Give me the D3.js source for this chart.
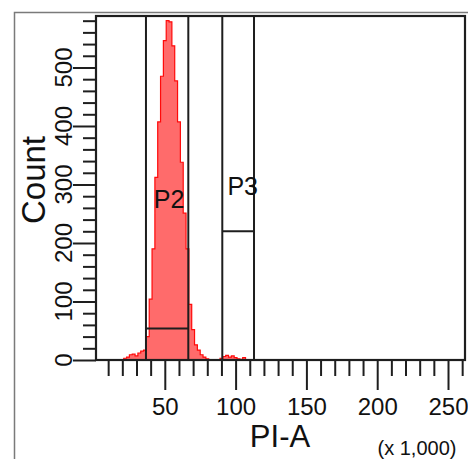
<!DOCTYPE html>
<html><head><meta charset="utf-8">
<script src="https://cdn.jsdelivr.net/npm/d3@7"></script>
<style>html,body{margin:0;padding:0;background:#fff;} svg{display:block;font-family:"Liberation Sans",Arial,Helvetica,sans-serif;}</style>
</head><body><svg id="c" width="468" height="459"></svg>
<script>
// ---- data (PI-A in thousands, Count) ----
const binStarts = [19,21,23,25,27,29,31,33,35,37,39,41,43,45,47,49,51,53,55,57,59,61,63,65,67,69,71,73,75,77,79,81,83,85,87,89,91,93,95,97,99,101,103,105,107,109];
const binCounts = [0,3,5,9,10,7,12,15,17,40,104,190,312,407,485,546,580,578,537,477,407,338,251,190,95,52,26,17,9,5,2,0,0,0,0,3,6,8,5,7,4,2,1,4,0,0];
const binWidth = 2;
const xMajorTicks = [50,100,150,200,250];
const xMinorTicks = [10,20,30,40,60,70,80,90,110,120,130,140,160,170,180,190,210,220,230,240,260];
const yMajorTicks = [0,100,200,300,400,500];
const yMinorTicks = [20,40,60,80,120,140,160,180,220,240,260,280,320,340,360,380,420,440,460,480,520,540,560,580];
const gateNames = ["P2","P3"];
const gateStart = [36.7, 90.6];
const gateEnd = [66.6, 113];
const gateLevel = [54, 220];
const gateLabelX = [53, 105];
const gateLabelY = [260, 282];
const xTitle = "PI-A", yTitle = "Count", xUnit = "(x 1,000)";

// ---- layout ----
const L = 96, T = 16, R = 465, B = 360;
const svg = d3.select("#c");
svg.append("rect").attr("width",468).attr("height",459).attr("fill","#fff");

const x = d3.scaleLinear().domain([0, 262]).range([94, R]);
const y = d3.scaleLinear().domain([0, 588]).range([B, T]);

// outer frame
svg.append("path").attr("d", `M14.5,459 V12.5 H468`).attr("fill","none").attr("stroke","#7a7a7a").attr("stroke-width",1.5);

// histogram
const pts = [];
binStarts.forEach((s,i)=>{ pts.push([s, binCounts[i]]); pts.push([s+binWidth, binCounts[i]]); });
const area = d3.area().x(d=>x(d[0])).y0(y(0)).y1(d=>y(d[1]));
const line = d3.line().x(d=>x(d[0])).y(d=>y(d[1]));
svg.append("path").attr("d", area(pts)).attr("fill","#ff6b6b");
svg.append("path").attr("d", line(pts)).attr("fill","none").attr("stroke","#ff0a0a").attr("stroke-width",1.2);

// gates
const ink = "#1e1e1e";
gateNames.forEach((g,i)=>{
  const gx0 = x(gateStart[i]), gx1 = x(gateEnd[i]);
  svg.append("line").attr("x1",gx0).attr("x2",gx0).attr("y1",T).attr("y2",B).attr("stroke",ink).attr("stroke-width",2);
  svg.append("line").attr("x1",gx1).attr("x2",gx1).attr("y1",T).attr("y2",B).attr("stroke",ink).attr("stroke-width",2);
  svg.append("line").attr("x1",gx0).attr("x2",gx1).attr("y1",y(gateLevel[i])).attr("y2",y(gateLevel[i])).attr("stroke",ink).attr("stroke-width",2);
  svg.append("text").attr("x",x(gateLabelX[i])).attr("y",y(gateLabelY[i])).attr("text-anchor","middle")
    .attr("font-size",25).attr("fill","#111").text(g);
});

// plot frame
svg.append("rect").attr("x",L).attr("y",T).attr("width",R-L).attr("height",B-T)
  .attr("fill","none").attr("stroke",ink).attr("stroke-width",2.2);

// x axis
const gx = svg.append("g").attr("transform",`translate(0,${B})`);
gx.call(d3.axisBottom(x).tickValues(xMinorTicks).tickSize(16).tickFormat(""));
const gxM = svg.append("g").attr("transform",`translate(0,${B})`);
gxM.call(d3.axisBottom(x).tickValues(xMajorTicks).tickSize(30).tickPadding(8).tickFormat(d3.format("d")));
[gx,gxM].forEach(g=>{ g.select(".domain").remove(); g.selectAll("line").attr("stroke",ink).attr("stroke-width",2); });
gxM.selectAll("text").attr("font-size",24).attr("fill","#111").attr("font-family","inherit");

// y axis
const gy = svg.append("g").attr("transform",`translate(${L},0)`);
gy.call(d3.axisLeft(y).tickValues(yMinorTicks).tickSize(13).tickFormat(""));
const gyM = svg.append("g").attr("transform",`translate(${L},0)`);
gyM.call(d3.axisLeft(y).tickValues(yMajorTicks).tickSize(23).tickFormat(""));
[gy,gyM].forEach(g=>{ g.select(".domain").remove(); g.selectAll("line").attr("stroke",ink).attr("stroke-width",2); });
svg.append("g").selectAll("text").data(yMajorTicks).join("text")
  .attr("transform",d=>`translate(72,${y(d)}) rotate(-90)`).attr("text-anchor","middle")
  .attr("font-size",24).attr("fill","#111").text(d=>d);

// titles
svg.append("text").attr("transform",`translate(45,180) rotate(-90)`).attr("text-anchor","middle")
  .attr("font-size",33).attr("fill","#111").text(yTitle);
svg.append("text").attr("x",280).attr("y",447).attr("text-anchor","middle").attr("font-size",31).attr("fill","#111").text(xTitle);
svg.append("text").attr("x",417).attr("y",455).attr("text-anchor","middle").attr("font-size",20).attr("fill","#111").text(xUnit);
</script></body></html>
